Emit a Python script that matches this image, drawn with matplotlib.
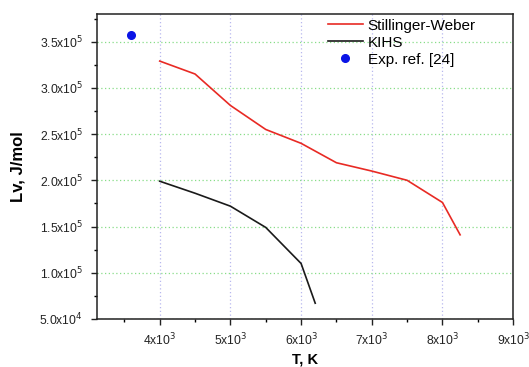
import matplotlib
matplotlib.use("Agg")
import matplotlib.pyplot as plt
from matplotlib.ticker import FixedLocator, MultipleLocator

plt.rcParams['font.family'] = ['Liberation Sans', 'DejaVu Sans']

# Stillinger-Weber potential
sw_T = [4000, 4500, 5000, 5500, 6000, 6500, 7000, 7500, 8000, 8250]
sw_Lv = [3.29e5, 3.15e5, 2.81e5, 2.55e5, 2.40e5, 2.19e5, 2.10e5, 2.00e5, 1.76e5, 1.41e5]

# KIHS potential
kihs_T = [4000, 4500, 5000, 5500, 6000, 6200]
kihs_Lv = [1.99e5, 1.86e5, 1.72e5, 1.49e5, 1.10e5, 6.7e4]

# Experimental value
exp_T = [3600]
exp_Lv = [3.57e5]

x_ticks = [4000, 5000, 6000, 7000, 8000, 9000]
x_labels = [r'4x10$^{3}$', r'5x10$^{3}$', r'6x10$^{3}$', r'7x10$^{3}$',
            r'8x10$^{3}$', r'9x10$^{3}$']
y_ticks = [5.0e4, 1.0e5, 1.5e5, 2.0e5, 2.5e5, 3.0e5, 3.5e5]
y_labels = [r'5.0x10$^{4}$', r'1.0x10$^{5}$', r'1.5x10$^{5}$', r'2.0x10$^{5}$',
            r'2.5x10$^{5}$', r'3.0x10$^{5}$', r'3.5x10$^{5}$']

fig = plt.figure(figsize=(5.29, 3.67), dpi=100)
ax = fig.add_axes([0.183, 0.131, 0.787, 0.831])

ax.plot(sw_T, sw_Lv, color='#e82a24', lw=1.2, label='Stillinger-Weber')
ax.plot(kihs_T, kihs_Lv, color='#1a1a1a', lw=1.2, label='KIHS')
ax.plot(exp_T, exp_Lv, 'o', color='#0a14e6', ms=5.5, label='Exp. ref. [24]', ls='none')

ax.set_xlim(3110, 9000)
ax.set_ylim(5.0e4, 3.8e5)

ax.xaxis.set_major_locator(FixedLocator(x_ticks))
ax.set_xticklabels(x_labels)
ax.yaxis.set_major_locator(FixedLocator(y_ticks))
ax.set_yticklabels(y_labels)
ax.xaxis.set_minor_locator(MultipleLocator(500))
ax.yaxis.set_minor_locator(MultipleLocator(2.5e4))

ax.tick_params(which='major', direction='out', length=4, width=1, labelsize=8.7,
               colors='#222222')
ax.tick_params(axis='y', which='major', pad=6)
ax.tick_params(axis='x', which='major', pad=5)
ax.tick_params(which='minor', direction='out', length=2.5, width=1)
ax.tick_params(axis='x', which='both', top=False)
ax.tick_params(axis='y', which='both', right=False)

for s in ax.spines.values():
    s.set_linewidth(1.1)
    s.set_color('#222222')

ax.grid(axis='x', which='major', color='#b8b8ee', ls=(0, (1, 2)), lw=0.9)
ax.grid(axis='y', which='major', color='#88dd88', ls=(0, (1, 2)), lw=0.9)
ax.set_axisbelow(True)

ax.set_xlabel('T, K', fontsize=10.5, fontweight='bold', labelpad=3)
ax.set_ylabel('Lv, J/mol', fontsize=12, fontweight='bold', labelpad=10)

ax.legend(loc='upper left', frameon=False, fontsize=11, handlelength=2.3,
          handletextpad=0.3, borderpad=0, borderaxespad=0, labelspacing=0.2,
          bbox_to_anchor=(0.555, 0.985))

fig.savefig('out.png', dpi=100)
